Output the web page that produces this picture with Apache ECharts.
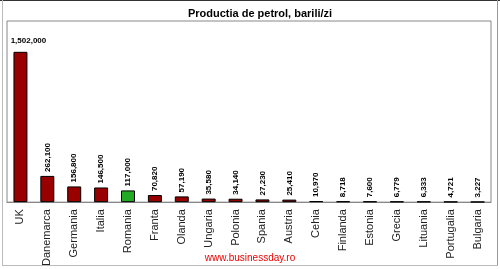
<!DOCTYPE html>
<html><head><meta charset="utf-8">
<script src="https://cdn.jsdelivr.net/npm/echarts@6/dist/echarts.min.js"></script>
<style>html,body{margin:0;padding:0;background:#fff}#c{width:500px;height:269px}</style>
</head><body><div id="c"></div>
<script>
var categories = ['UK','Danemarca','Germania','Italia','Romania','Franta','Olanda','Ungaria','Polonia','Spania','Austria','Cehia','Finlanda','Estonia','Grecia','Lituania','Portugalia','Bulgaria'];
var values = [1502000,262100,156800,146500,117000,70820,57190,35580,34140,27230,25410,10970,8718,7600,6779,6333,4721,3227];
var highlight = 'Romania';
var titleText = 'Productia de petrol, barili/zi';
var footerText = 'www.businessday.ro';

var chart = echarts.init(document.getElementById('c'), null, {renderer:'canvas'});
var data = values.map(function(v, i){
  var item = {value: v, itemStyle: {color: categories[i] === highlight ? '#22aa22' : '#990000'}};
  if (i === 0) {
    item.label = {rotate: 0, align: 'center', verticalAlign: 'bottom', offset: [8, -3], distance: 4};
  }
  return item;
});
chart.setOption({
  animation: false,
  title: {text: titleText, left: 255, top: 3, textAlign: 'center',
    textStyle: {fontFamily: 'Liberation Sans, Arial', fontSize: 11, fontWeight: 'bold', color: '#000'}},
  graphic: [
    {type: 'line', shape: {x1: 0, y1: 0.5, x2: 500, y2: 0.5}, style: {stroke: '#333', lineWidth: 1}},
    {type: 'line', shape: {x1: 2.5, y1: 0, x2: 2.5, y2: 265}, style: {stroke: '#bbb', lineWidth: 1}},
    {type: 'line', shape: {x1: 497.5, y1: 0, x2: 497.5, y2: 265}, style: {stroke: '#999', lineWidth: 1}},
    {type: 'line', shape: {x1: 2, y1: 265.5, x2: 498, y2: 265.5}, style: {stroke: '#bbb', lineWidth: 1}},
    {type: 'text', left: 'center', top: 253, style: {text: footerText, fill: '#ee0000', fontFamily: 'Liberation Sans, Arial', fontSize: 10}}
  ],
  grid: {left: 7, right: 9, top: 21, bottom: 66, show: true, borderColor: '#888', borderWidth: 1, backgroundColor: '#fff'},
  xAxis: {type: 'category', data: categories,
    axisLine: {lineStyle: {color: '#888'}}, axisTick: {show: false},
    axisLabel: {rotate: 90, interval: 0, color: '#222', fontFamily: 'Liberation Sans, Arial', fontSize: 11, margin: 7}},
  yAxis: {type: 'value', min: 0, max: 1810000, show: false, splitLine: {show: false}},
  series: [{type: 'bar', data: data, barWidth: '52%',
    itemStyle: {borderColor: '#000', borderWidth: 1},
    label: {show: true, position: 'top', rotate: 90, align: 'left', verticalAlign: 'middle', distance: 4,
      fontFamily: 'Liberation Sans, Arial', fontSize: 8, fontWeight: 'bold', color: '#000',
      formatter: function(p){ return p.value.toLocaleString('en-US'); }}}]
});
</script></body></html>
